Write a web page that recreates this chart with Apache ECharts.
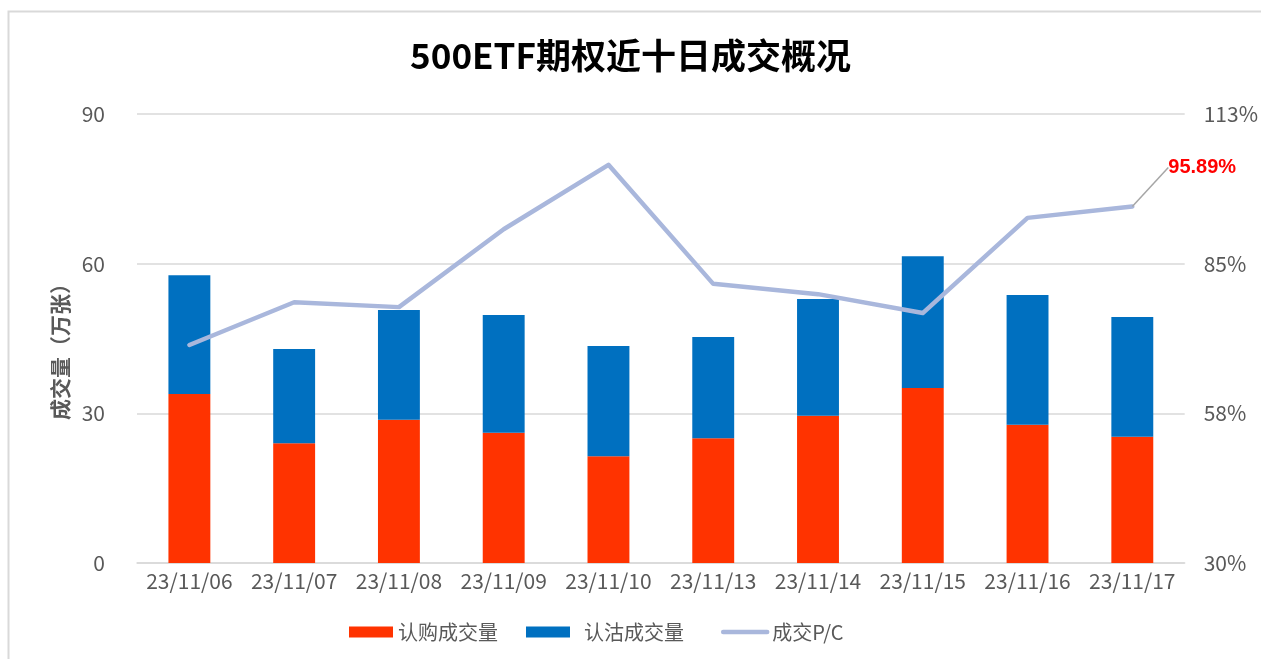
<!DOCTYPE html>
<html>
<head>
<meta charset="utf-8">
<script src="https://cdn.jsdelivr.net/npm/echarts@6/dist/echarts.min.js"></script>
<style>
html,body{margin:0;padding:0;background:#fff;}
#c{width:1261px;height:659px;}
</style>
</head>
<body>
<div id="c"></div>
<script>
const categories = ['23/11/06','23/11/07','23/11/08','23/11/09','23/11/10','23/11/13','23/11/14','23/11/15','23/11/16','23/11/17'];
const callVolume = [33.9, 24.0, 28.7, 26.1, 21.4, 25.0, 29.5, 35.1, 27.7, 25.3];
const putVolume = [23.8, 18.9, 22.0, 23.6, 22.1, 20.3, 23.4, 26.4, 26.0, 24.0];
const pcRatio = [70.3, 78.2, 77.3, 91.7, 103.6, 81.6, 79.7, 76.2, 93.8, 95.89];
const leftTicks = [0, 30, 60, 90];
const rightTickLabels = ['30%', '58%', '85%', '113%'];

const font = '"Noto Sans CJK SC", "Noto Sans", sans-serif';
const chart = echarts.init(document.getElementById('c'));
const lastIdx = pcRatio.length - 1;

chart.setOption({
  animation: false,
  backgroundColor: '#fff',
  title: {
    text: '500ETF期权近十日成交概况',
    left: 'center',
    top: 33,
    textStyle: { fontFamily: font, fontSize: 35, fontWeight: 'bold', color: '#000' }
  },
  graphic: [{
    type: 'rect',
    shape: { x: 8.5, y: 11.5, width: 1400, height: 800 },
    style: { fill: 'none', stroke: '#d9d9d9', lineWidth: 2 },
    silent: true
  }],
  legend: {
    top: 617,
    left: 344,
    itemGap: 28,
    itemWidth: 44,
    itemHeight: 11,
    textStyle: { fontFamily: font, fontSize: 20, color: '#595959' },
    formatter: function (name) {
      return name === '认沽成交量' ? '  ' + name + '  ' : name;
    },
    data: [
      { name: '认购成交量', icon: 'rect' },
      { name: '认沽成交量', icon: 'rect' },
      { name: '成交P/C', itemStyle: { opacity: 0 }, lineStyle: { width: 4.5, cap: 'round', color: '#A9B7DC' } }
    ]
  },
  grid: { left: 137, right: 73, top: 114, bottom: 96, containLabel: false },
  xAxis: {
    type: 'category',
    data: categories,
    axisLine: { lineStyle: { color: '#d9d9d9', width: 1.5 } },
    axisTick: { show: false },
    axisLabel: { fontFamily: font, fontSize: 21, color: '#595959', margin: 8, interval: 0 }
  },
  yAxis: [{
    type: 'value',
    min: leftTicks[0],
    max: leftTicks[leftTicks.length - 1],
    interval: 30,
    name: '成交量（万张）',
    nameLocation: 'middle',
    nameGap: 64,
    nameRotate: 90,
    nameTextStyle: { fontFamily: font, fontSize: 21, fontWeight: 'bold', color: '#595959', padding: [0, 16, 0, 0] },
    axisLine: { show: false },
    axisTick: { show: false },
    splitLine: { lineStyle: { color: '#d9d9d9', width: 1.5 } },
    axisLabel: { fontFamily: font, fontSize: 21, color: '#595959', margin: 32 }
  }, {
    type: 'value',
    min: 30,
    max: 113,
    interval: 83 / 3,
    axisLine: { show: false },
    axisTick: { show: false },
    splitLine: { show: false },
    axisLabel: {
      fontFamily: font, fontSize: 21, color: '#595959', margin: 19,
      formatter: function (v) {
        const i = Math.round((v - 30) / (83 / 3));
        return rightTickLabels[i] || '';
      }
    }
  }],
  series: [{
    name: '认购成交量',
    type: 'bar',
    stack: 'vol',
    barWidth: '40%',
    itemStyle: { color: '#FF3300' },
    data: callVolume
  }, {
    name: '认沽成交量',
    type: 'bar',
    stack: 'vol',
    barWidth: '40%',
    itemStyle: { color: '#0070C0' },
    data: putVolume
  }, {
    name: '成交P/C',
    type: 'line',
    yAxisIndex: 1,
    symbol: 'circle',
    symbolSize: 0,
    showSymbol: true,
    showAllSymbol: true,
    lineStyle: { color: '#A9B7DC', width: 4.5, cap: 'round', join: 'round' },
    itemStyle: { color: '#A9B7DC' },
    data: pcRatio.map(function (v, i) {
      if (i !== lastIdx) return v;
      return {
        value: v,
        label: {
          show: true,
          position: 'right',
          formatter: function (p) { return p.value.toFixed(2) + '%'; },
          fontFamily: '"Liberation Sans", Arial, sans-serif',
          fontWeight: 'bold',
          fontSize: 20,
          color: '#FF0000',
          padding: [0, 0, 0, 10]
        },
        labelLine: { show: true, length2: 10, lineStyle: { color: '#a6a6a6', width: 1.5 } }
      };
    }),
    labelLayout: function (params) {
      if (params.dataIndex !== lastIdx) return {};
      return { dx: 21, dy: -39 };
    },
    labelLine: { show: true, length2: 10, lineStyle: { color: '#a6a6a6', width: 1.5 } }
  }]
});
</script>
</body>
</html>
